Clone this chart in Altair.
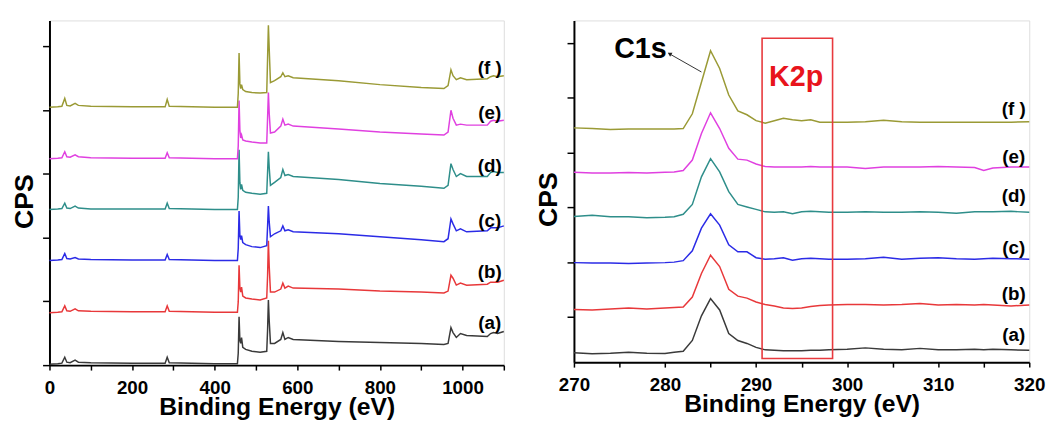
import altair as alt
import pandas as pd

FONT = "Liberation Sans"

samples = ["a", "b", "c", "d", "e", "f"]
sample_labels = ["(a)", "(b)", "(c)", "(d)", "(e)", "(f )"]
colors = ["#3a3a3a", "#e8383a", "#2b2be6", "#2e8e8a", "#e040e0", "#9a9a35"]

# ---------------- survey spectra (left panel), CPS in arbitrary offset units ----------------
survey_energy = [0, 20, 30, 37, 42, 50, 62, 70, 100, 200,
                 280, 285, 290, 400, 455, 457, 459, 461, 463, 465,
                 468, 475, 490, 510, 526, 528, 530, 532, 535, 545,
                 560, 565, 570, 578, 590, 700, 800, 900, 955, 965,
                 972, 977, 985, 995, 1010, 1060, 1068, 1075, 1085, 1100]

survey_a = [1, 1.5, 2, 8, 3, 2.5, 5, 3, 2.5, 2,
            2, 8, 2.5, 1.5, 1.5, 12, 49, 25, 22, 28,
            18, 16, 14, 13, 14, 35, 66, 45, 22, 22,
            26, 33, 26, 28, 26, 24, 23, 22, 21, 22,
            38, 33, 28, 32, 30, 29, 32, 33, 32, 34]
survey_b = [53, 53.5, 54, 60, 55, 54.5, 57, 55, 54.5, 54,
            54, 60, 54.5, 53.5, 53.5, 64, 101, 78, 74, 79,
            70, 68, 67, 66, 68, 90, 126, 100, 74, 74,
            77, 83, 78, 80, 78, 77, 75, 74, 73, 75,
            91, 88, 81, 83, 81, 82, 84, 84, 84, 86]
survey_c = [106, 106.5, 107, 113, 108, 107.5, 109, 107.5, 107, 106.5,
            106.5, 112, 107, 106, 106, 118, 156, 131, 127, 131,
            124, 122, 120, 119, 121, 140, 161, 145, 130, 133,
            136, 141, 136, 137, 135, 133, 130, 127, 125, 128,
            148, 143, 136, 138, 135, 136, 139, 139, 139, 141]
survey_d = [157.5, 158, 158.5, 164, 159, 158.5, 161, 159, 158, 158,
            158, 164, 158.5, 157.5, 157.5, 170, 218, 185, 178, 183,
            177, 175, 174, 173, 174, 195, 216, 200, 182, 185,
            190, 198, 192, 193, 191, 188, 184, 181, 179, 182,
            204, 198, 191, 194, 191, 191, 195, 196, 195, 195]
survey_e = [209, 209.5, 210, 216, 211, 210.5, 213, 211, 210, 209.5,
            209.5, 215, 210, 209, 209, 222, 268, 238, 230, 233,
            228, 227, 226, 225, 225, 250, 276, 255, 235, 236,
            242, 249, 243, 244, 242, 239, 236, 234, 233, 236,
            258, 250, 243, 244, 243, 243, 247, 248, 247, 248]
survey_f = [261, 261.5, 262, 270, 263, 262.5, 265, 263, 262, 261.5,
            261.5, 269, 262, 261, 261, 275, 316, 285, 280, 284,
            279, 277, 276, 275.5, 276, 310, 344, 320, 286, 288,
            292, 296, 292, 293, 291, 288, 284, 281, 280, 283,
            299, 293, 289, 291, 289, 290, 292, 293, 292, 293]

# ---------------- C1s region (right panel) ----------------
c1s_energy = [270, 272, 274, 276, 278, 280, 281, 282, 283, 284,
              285, 286, 287, 288, 289, 290, 291, 292, 293, 294,
              295, 296, 297, 298, 300, 302, 304, 306, 308, 310,
              312, 314, 315, 316, 318, 320]

c1s_a = [9.5, 8.5, 9, 10, 9, 8.7, 10, 11, 22, 47,
         64.5, 53, 29, 22, 19, 15, 12.5, 12, 11.5, 11.5,
         11.5, 12, 12, 12.5, 13, 14.5, 13, 12.5, 14, 12.5,
         12.5, 13, 12.5, 13, 12.5, 12]
c1s_b = [53.5, 53, 54, 55, 54, 55, 55.5, 56, 66, 90,
         108.5, 97, 74, 67, 65, 61, 58.5, 57, 55, 54.5,
         55, 56.5, 57.5, 58, 58.5, 58.5, 58, 58.5, 59.5, 58,
         58.5, 58, 58.5, 58, 57, 58]
c1s_c = [101, 100.5, 100.5, 100, 100.5, 101, 101.5, 103, 113, 136,
         150.5, 139, 119, 112, 112, 106, 104.5, 105, 106, 103.5,
         105, 105.5, 105, 104.5, 104.5, 105, 106.5, 104.5, 105.5, 106,
         105, 104.5, 105, 105.5, 105, 104.5]
c1s_d = [147.7, 149, 147.5, 147.5, 146.5, 147, 147.5, 150, 160, 188,
         206.5, 193, 173, 160, 157.5, 155, 152.5, 152, 152.5, 150.5,
         152.5, 153, 152.5, 152, 152, 152.5, 152, 152, 152.5, 152,
         151, 152.5, 152.5, 152.5, 153, 152]
c1s_e = [192.7, 192, 192, 192.5, 192, 192.7, 193, 194.5, 205, 232,
         253, 237, 217, 206, 205, 201, 198.5, 198, 198, 198,
         198, 198.5, 198, 198, 198, 196.5, 198, 198, 198, 198.5,
         198, 197.5, 194.5, 197, 198, 198]
c1s_f = [237.7, 237, 236, 236.5, 236.5, 236.5, 236.5, 237, 252, 284,
         316, 298, 271, 255, 251, 245, 242.5, 245, 247.5, 246,
         245, 246, 243.5, 243.5, 243.5, 244, 245.5, 244, 243.5, 243.5,
         243.5, 243.5, 243.5, 243.5, 243.5, 244]

# ---------------- annotations ----------------
left_label_energy = [1066, 1066, 1066, 1066, 1066, 1066]
left_label_cps = [43, 94.3, 146, 201.7, 255, 301]
right_label_energy = [318.3, 318.3, 318.3, 318.3, 318.3, 318.3]
right_label_cps = [27.7, 68.7, 116, 168.4, 208.4, 256.7]

left_yticks = [0, 64.6, 129.2, 193.8, 258.4, 323]
right_yticks = [45.7, 101.3, 156.9, 212.5, 268.1, 323.7]

c1s_text = {"energy": [277.3], "cps": [317.8], "text": ["C1s"]}
arrow_line = {"energy": [284.0, 280.4], "cps": [294.4, 313.3]}
arrow_head = {"energy": [280.5], "cps": [313.0]}
k2p_box = {"energy": [290.66], "energy2": [298.4], "cps": [3.7], "cps2": [328.7]}
k2p_text = {"energy": [294.4], "cps": [289.5], "text": ["K2p"]}


def long_frame(energy, series_list):
    rows = []
    for s, vals in zip(samples, series_list):
        for e, v in zip(energy, vals):
            rows.append({"energy": e, "cps": v, "sample": s})
    return pd.DataFrame(rows)


survey_df = long_frame(survey_energy, [survey_a, survey_b, survey_c, survey_d, survey_e, survey_f])
c1s_df = long_frame(c1s_energy, [c1s_a, c1s_b, c1s_c, c1s_d, c1s_e, c1s_f])


def x_axis(values, label_step, title_y):
    return alt.Axis(
        values=values, format="d",
        labelExpr=f"datum.value % {label_step} == 0 ? datum.label : ''",
        title="Binding Energy (eV)", grid=False,
        domainColor="black", domainWidth=2, tickColor="black", tickWidth=1.5, tickSize=5,
        labelFont=FONT, labelFontSize=19, labelFontWeight="bold", labelColor="black",
        labelPadding=8.5, labelFlush=False, labelOverlap=False,
        titleFont=FONT, titleFontSize=25, titleFontWeight="bold", titleColor="black",
        titleY=title_y, titleBaseline="top",
    )


def y_axis(values, title_y):
    return alt.Axis(
        values=values, labels=False, grid=False,
        domainColor="black", domainWidth=2, tickColor="black", tickWidth=1.5, tickSize=7,
        title="CPS", titleFont=FONT, titleFontSize=27, titleFontWeight="bold", titleColor="black",
        titleAngle=270, titleBaseline="middle", titleX=-25.5, titleY=title_y,
    )


color_scale = alt.Scale(domain=samples, range=colors)

# ---------------- left panel ----------------
lx = alt.X("energy:Q", scale=alt.Scale(domain=[0, 1100], nice=False, zero=False),
           axis=x_axis(list(range(0, 1101, 100)), 200, 30))
ly = alt.Y("cps:Q", scale=alt.Scale(domain=[0, 349], nice=False, zero=False),
           axis=y_axis(left_yticks, 183))

left_lines = alt.Chart(survey_df).mark_line(strokeWidth=1.5).encode(
    x=lx, y=ly, color=alt.Color("sample:N", scale=color_scale, legend=None),
    detail="sample:N",
)
left_labels = alt.Chart(pd.DataFrame({
    "energy": left_label_energy, "cps": left_label_cps, "text": sample_labels,
})).mark_text(font=FONT, fontSize=19, fontWeight="bold", color="black",
              align="center", baseline="middle").encode(x=lx, y=ly, text="text:N")

left = alt.layer(left_lines, left_labels).properties(width=460, height=349)

# ---------------- right panel ----------------
rx = alt.X("energy:Q", scale=alt.Scale(domain=[270, 320], nice=False, zero=False),
           axis=x_axis(list(range(270, 321, 5)), 10, 30))
ry = alt.Y("cps:Q", scale=alt.Scale(domain=[0, 346.7], nice=False, zero=False),
           axis=y_axis(right_yticks, 181))

right_lines = alt.Chart(c1s_df).mark_line(strokeWidth=1.5).encode(
    x=rx, y=ry, color=alt.Color("sample:N", scale=color_scale, legend=None),
    detail="sample:N",
)
right_labels = alt.Chart(pd.DataFrame({
    "energy": right_label_energy, "cps": right_label_cps, "text": sample_labels,
})).mark_text(font=FONT, fontSize=19, fontWeight="bold", color="black",
              align="center", baseline="middle").encode(x=rx, y=ry, text="text:N")
box = alt.Chart(pd.DataFrame(k2p_box)).mark_rect(
    fillOpacity=0, stroke="#e8393d", strokeWidth=1.6
).encode(x=rx, x2="energy2:Q", y=ry, y2="cps2:Q")
k2p = alt.Chart(pd.DataFrame(k2p_text)).mark_text(
    font=FONT, fontSize=29, fontWeight="bold", color="#e8141c", align="center", baseline="middle"
).encode(x=rx, y=ry, text="text:N")
c1s = alt.Chart(pd.DataFrame(c1s_text)).mark_text(
    font=FONT, fontSize=29, fontWeight="bold", color="black", align="center", baseline="middle"
).encode(x=rx, y=ry, text="text:N")
arrow = alt.Chart(pd.DataFrame(arrow_line)).mark_line(color="#333333", strokeWidth=1).encode(x=rx, y=ry)
head = alt.Chart(pd.DataFrame(arrow_head)).mark_point(
    shape="triangle-up", angle=300, size=22, filled=True, color="#222222", opacity=1
).encode(x=rx, y=ry)

right = alt.layer(right_lines, box, right_labels, k2p, c1s, arrow, head).properties(width=461, height=346)

chart = alt.hconcat(left, right, spacing=27).properties(
    padding={"left": 2, "top": 9, "right": 5, "bottom": 0}
).configure_view(stroke="black", strokeWidth=2).configure(background="white")

chart.save("out.html", embed_options={"renderer": "svg", "actions": False})
